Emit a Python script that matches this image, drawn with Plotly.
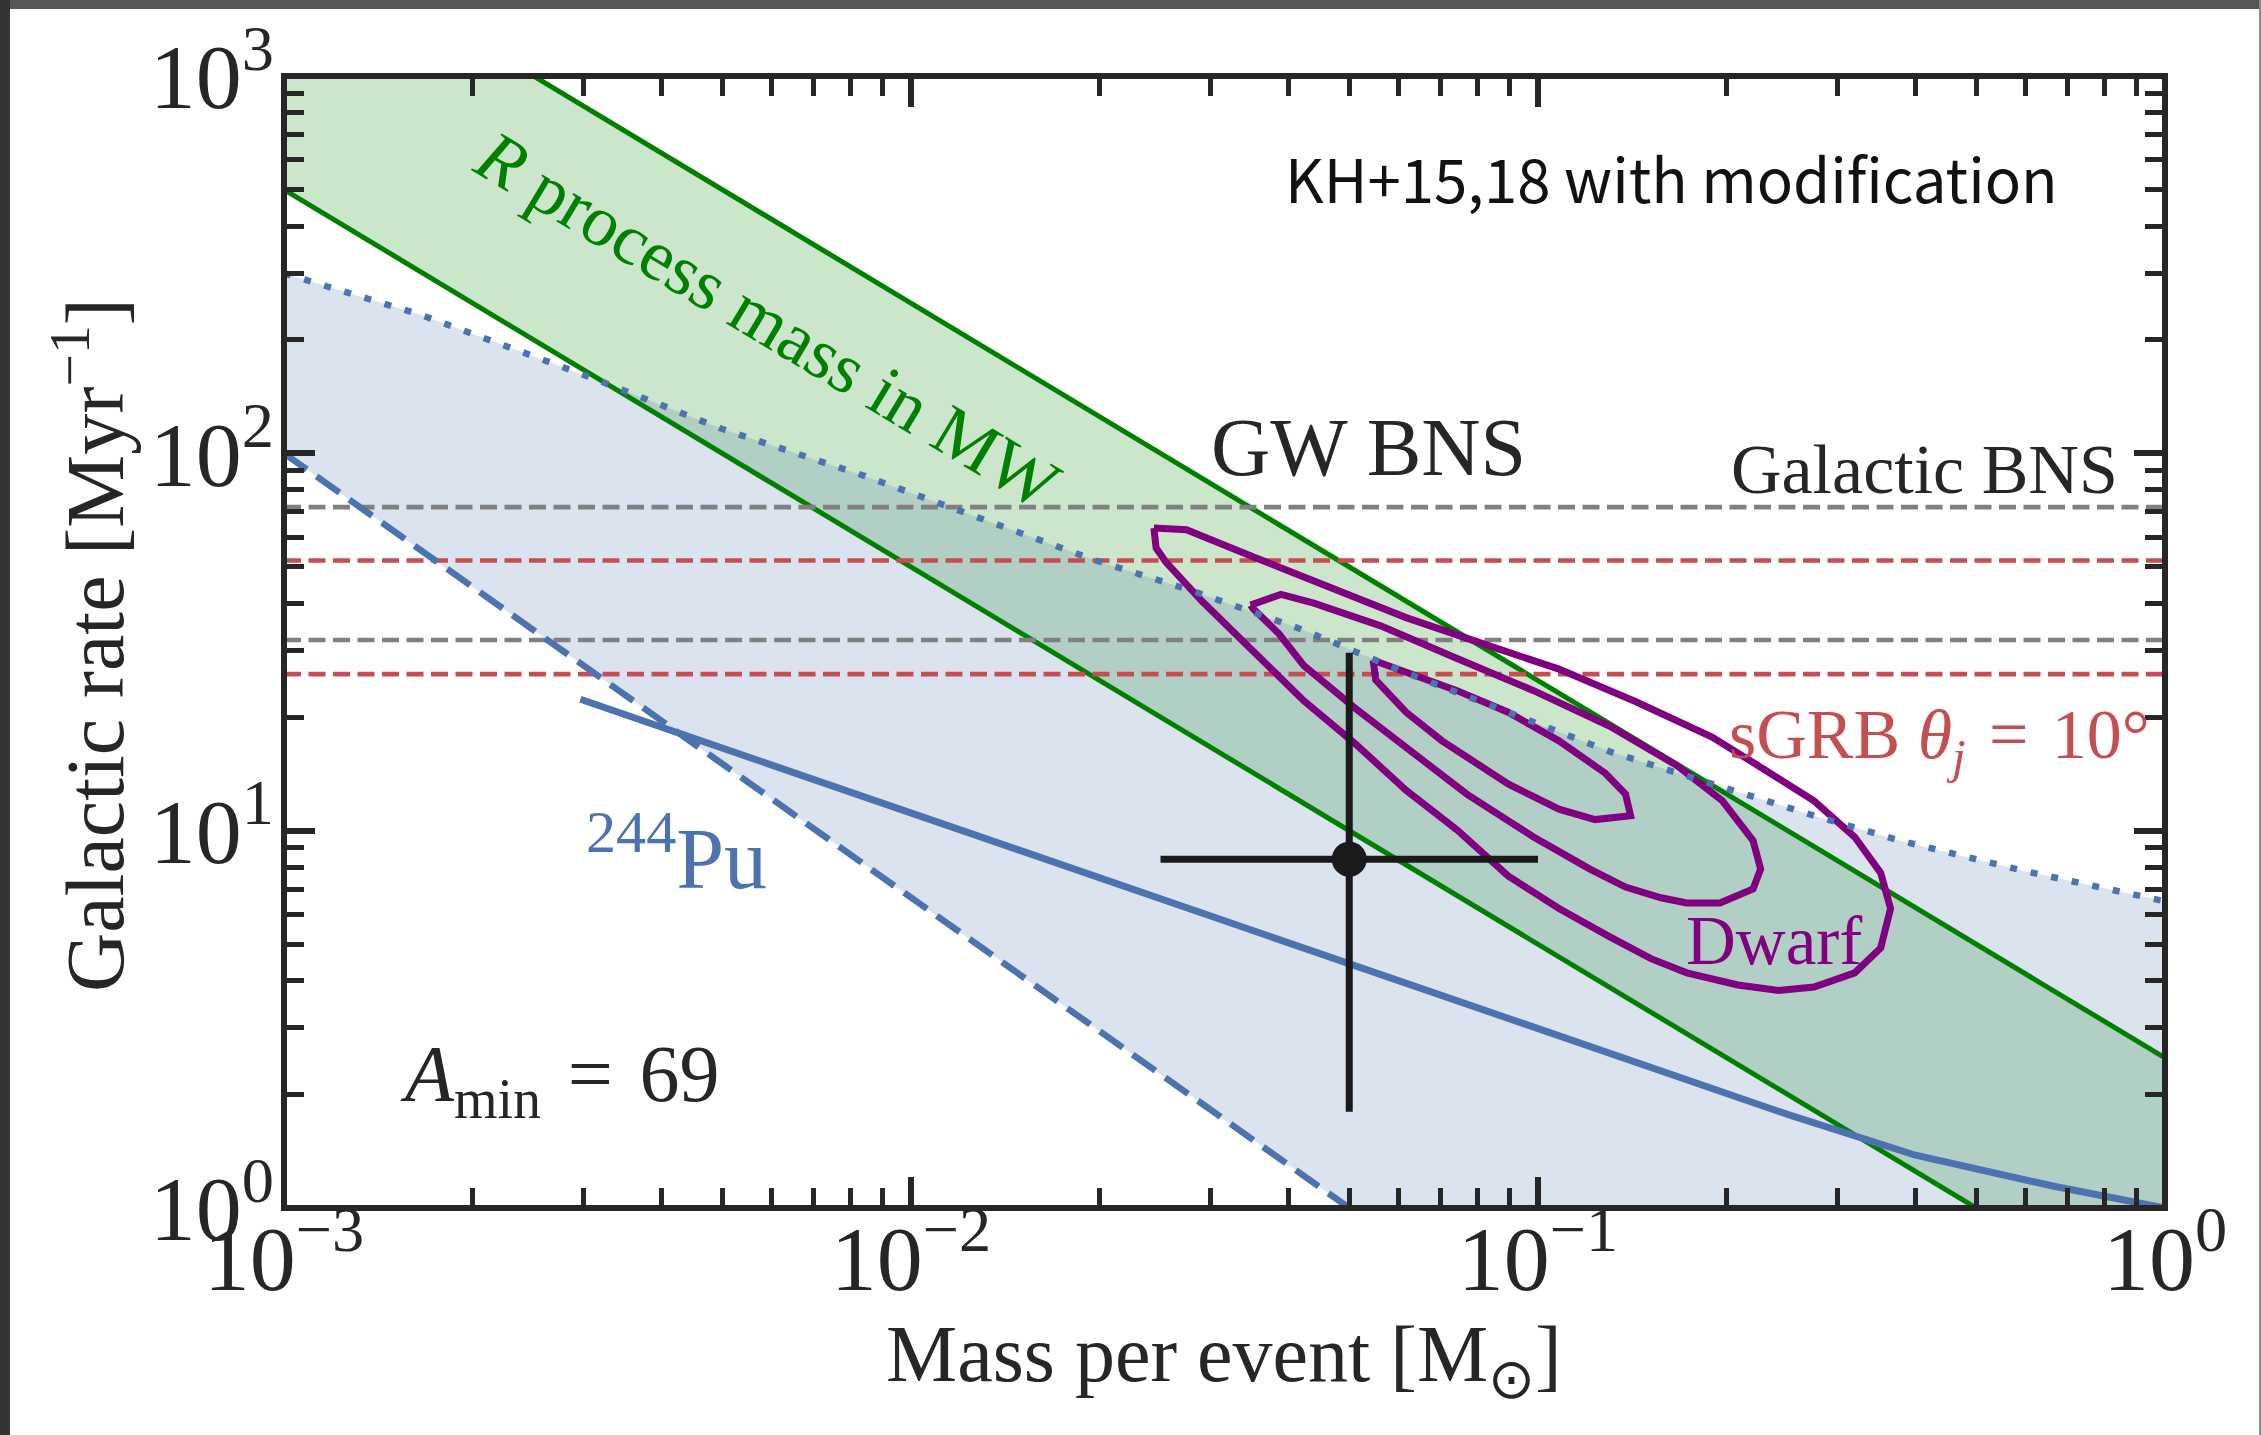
import plotly.graph_objects as go

# ---- data -------------------------------------------------------------
mass_axis = [1e-3, 1.0]          # x-axis span [M_sun]
rate_axis = [1.0, 1e3]           # y-axis span [Myr^-1]

# r-process mass in the Milky Way: rate * mass between these totals
band_mass = [1e-3, 1.0]
band_rate_low = [500.0, 0.5]
band_rate_high = [2500.0, 2.5]

# horizontal rate bounds
galactic_bns_rates = [72.0, 32.0]
sgrb_rates = [52.0, 26.0]

# 244Pu constraints
pu_upper_mass = [1e-3, 1.65e-3, 2.52e-3, 3.11e-3, 5.0e-3, 8.45e-3, 0.0197, 0.028,
                 0.0423, 0.0616, 0.0896, 0.1302, 0.1895, 0.2755, 0.378, 0.6, 1.0]
pu_upper_rate = [300, 233, 180, 158, 116, 87, 52, 43.3,
                 34.0, 26.2, 20.6, 16.2, 13.3, 10.96, 9.41, 7.8, 6.5]

pu_lower_mass = [1e-3, 0.05]
pu_lower_rate = [100.0, 1.0]

pu_solid_mass = [2.97e-3, 0.05, 0.25, 0.4, 0.668, 1.0]
pu_solid_rate = [22.3, 4.44, 1.77, 1.38, 1.14, 1.0]

# dwarf-galaxy contours
dwarf_outer_mass = [0.0244, 0.0275, 0.0351, 0.0465, 0.0616, 0.0816, 0.108, 0.143, 0.1895,
                    0.2285, 0.2755, 0.320, 0.352, 0.365, 0.352, 0.320, 0.2755, 0.242,
                    0.2084, 0.1727, 0.1514, 0.1302, 0.108, 0.0896, 0.0743, 0.0616,
                    0.0511, 0.0423, 0.0351, 0.0291, 0.0255, 0.0246, 0.0244]
dwarf_outer_rate = [63.4, 62.7, 53.2, 44.3, 36.7, 31.3, 26.8, 22.0, 17.7,
                    14.6, 12.0, 9.62, 7.73, 6.22, 4.89, 4.20, 3.85, 3.77,
                    3.90, 4.20, 4.58, 5.23, 6.22, 7.59, 10.04, 12.8,
                    17.0, 22.1, 29.9, 40.6, 51.5, 56.1, 63.4]

dwarf_mid_mass = [0.0348, 0.0389, 0.0439, 0.0561, 0.0743, 0.0984, 0.1302, 0.1663, 0.1968,
                  0.2203, 0.2265, 0.2203, 0.1951, 0.1727, 0.1571, 0.1379, 0.121, 0.0984,
                  0.077, 0.0616, 0.0511, 0.0423, 0.0386, 0.0351, 0.0348]
dwarf_mid_rate = [39.6, 42.3, 40.1, 34.9, 28.6, 23.5, 18.9, 14.9, 12.0,
                  9.41, 7.91, 7.01, 6.43, 6.43, 6.64, 7.09, 7.91, 9.62,
                  12.5, 16.6, 21.1, 27.4, 33.3, 38.8, 39.6]

dwarf_inner_mass = [0.0546, 0.0551, 0.0616, 0.0703, 0.0896, 0.108, 0.1233, 0.1405,
                    0.1379, 0.128, 0.108, 0.0896, 0.0743, 0.0616, 0.0546]
dwarf_inner_rate = [28.3, 25.1, 20.6, 17.3, 13.3, 11.4, 10.7, 10.96,
                    12.5, 14.2, 17.3, 20.6, 23.5, 26.2, 28.3]

# GW170817-based estimate
gw_mass, gw_mass_lo, gw_mass_hi = 0.05, 0.025, 0.1
gw_rate, gw_rate_lo, gw_rate_hi = 8.4, 1.8, 29.6

# axis ticks
x_tick_vals = [1e-3, 1e-2, 1e-1, 1.0]
x_tick_text = ["10<sup>−3</sup>", "10<sup>−2</sup>", "10<sup>−1</sup>", "10<sup>0</sup>"]
y_tick_vals = [1.0, 10.0, 100.0, 1000.0]
y_tick_text = ["10<sup>0</sup>", "10<sup>1</sup>", "10<sup>2</sup>", "10<sup>3</sup>"]
x_minor = [k * 10.0 ** e for e in (-3, -2, -1) for k in range(2, 10)]
y_minor = [k * 10.0 ** e for e in (0, 1, 2) for k in range(2, 10)]

# ---- style ------------------------------------------------------------
INK = "#262626"
GREEN = "#008000"
BLUE = "#4c72b0"
RED = "#c44e52"
GRAY = "#808080"
PURPLE = "#800080"
SERIF = "Liberation Serif"
SP = "\u2004"   # slightly wider space around relation signs

fig = go.Figure()

# filled regions
fig.add_trace(go.Scatter(x=band_mass, y=band_rate_low, mode="lines",
                         line=dict(width=0), hoverinfo="skip"))
fig.add_trace(go.Scatter(x=band_mass, y=band_rate_high, mode="lines",
                         line=dict(width=0), fill="tonexty",
                         fillcolor="rgba(0,128,0,0.2)", hoverinfo="skip"))

pu_poly_x = pu_upper_mass + [mass_axis[1], pu_lower_mass[1], pu_lower_mass[0], pu_upper_mass[0]]
pu_poly_y = pu_upper_rate + [rate_axis[0], pu_lower_rate[1], pu_lower_rate[0], pu_upper_rate[0]]
fig.add_trace(go.Scatter(x=pu_poly_x, y=pu_poly_y, mode="lines", fill="toself",
                         fillcolor="rgba(76,114,176,0.2)", line=dict(width=0),
                         hoverinfo="skip"))

# r-process band edges
for rates in (band_rate_low, band_rate_high):
    fig.add_trace(go.Scatter(x=band_mass, y=rates, mode="lines",
                             line=dict(color=GREEN, width=5)))

# horizontal rate ranges
for r in galactic_bns_rates:
    fig.add_trace(go.Scatter(x=mass_axis, y=[r, r], mode="lines",
                             line=dict(color=GRAY, width=4.6, dash="17px,7.5px")))
for r in sgrb_rates:
    fig.add_trace(go.Scatter(x=mass_axis, y=[r, r], mode="lines",
                             line=dict(color=RED, width=4.6, dash="17px,7.5px")))

# dwarf contours
for mx, ry in ((dwarf_outer_mass, dwarf_outer_rate),
               (dwarf_mid_mass, dwarf_mid_rate),
               (dwarf_inner_mass, dwarf_inner_rate)):
    fig.add_trace(go.Scatter(x=mx, y=ry, mode="lines",
                             line=dict(color=PURPLE, width=7)))

# 244Pu lines
fig.add_trace(go.Scatter(x=pu_upper_mass, y=pu_upper_rate, mode="lines",
                         line=dict(color=BLUE, width=6.5, dash="7px,14px")))
fig.add_trace(go.Scatter(x=pu_lower_mass, y=pu_lower_rate, mode="lines",
                         line=dict(color=BLUE, width=6.5, dash="28px,12px")))
fig.add_trace(go.Scatter(x=pu_solid_mass, y=pu_solid_rate, mode="lines",
                         line=dict(color=BLUE, width=7)))

# GW point with error bars
fig.add_trace(go.Scatter(
    x=[gw_mass], y=[gw_rate], mode="markers",
    marker=dict(size=35, color="#1a1a1a"),
    error_x=dict(type="data", symmetric=False, array=[gw_mass_hi - gw_mass],
                 arrayminus=[gw_mass - gw_mass_lo], thickness=7, width=0,
                 color="#1a1a1a"),
    error_y=dict(type="data", symmetric=False, array=[gw_rate_hi - gw_rate],
                 arrayminus=[gw_rate - gw_rate_lo], thickness=7, width=0,
                 color="#1a1a1a"),
))

# ---- layout -----------------------------------------------------------
W, H = 2261, 1435
ML, MR, MT, MB = 284, 96, 76, 227
PW, PH = W - ML - MR, H - MT - MB


def px(x):
    return (x - ML) / PW


def py(y):
    return (H - MB - y) / PH


axis_common = dict(
    type="log", showgrid=False, zeroline=False, showline=False,
    ticks="inside", ticklen=31, tickwidth=6, tickcolor=INK,
    mirror="allticks",
    tickfont=dict(family=SERIF, size=92, color=INK),
)

fig.update_layout(
    width=W, height=H,
    margin=dict(l=ML, r=MR, t=MT, b=MB, autoexpand=False),
    paper_bgcolor="white", plot_bgcolor="white",
    showlegend=False,
    xaxis=dict(range=[-3, 0], tickvals=x_tick_vals, ticktext=x_tick_text,
               minor=dict(tickvals=x_minor, ticks="inside", ticklen=20,
                          tickwidth=4.5, tickcolor=INK, showgrid=False),
               ticklabelstandoff=-11, **axis_common),
    yaxis=dict(range=[0, 3], tickvals=y_tick_vals, ticktext=y_tick_text,
               minor=dict(tickvals=y_minor, ticks="inside", ticklen=20,
                          tickwidth=4.5, tickcolor=INK, showgrid=False),
               ticklabelstandoff=9, **axis_common),
)

shapes = [
    # plot frame
    dict(type="rect", xref="paper", yref="paper", x0=0, x1=1, y0=0, y1=1,
         line=dict(color=INK, width=6), layer="above"),
    # window edges
    dict(type="rect", xref="paper", yref="paper", x0=px(0), x1=px(W), y0=py(0), y1=py(9),
         line=dict(width=0), fillcolor="#575757", layer="above"),
    dict(type="rect", xref="paper", yref="paper", x0=px(0), x1=px(10), y0=py(0), y1=py(H),
         line=dict(width=0), fillcolor="#353535", layer="above"),
    dict(type="rect", xref="paper", yref="paper", x0=px(W - 2), x1=px(W), y0=py(0), y1=py(H),
         line=dict(width=0), fillcolor="#8a8a8a", layer="above"),
]
fig.update_layout(shapes=shapes)


def label(text, x, y, size, color=INK, xanchor="center", yanchor="middle",
          angle=0, family=SERIF):
    fig.add_annotation(text=text, xref="paper", yref="paper", x=px(x), y=py(y),
                       xanchor=xanchor, yanchor=yanchor, textangle=angle,
                       showarrow=False, font=dict(family=family, size=size, color=color))


label("KH+15,18 with modification", 1283, 177, 60, color="#111111",
      xanchor="left", family="Noto Sans CJK JP")
label("<i>R</i> process mass in MW", 767, 320, 72, color=GREEN, angle=31)
label("GW BNS", 1368, 447, 82)
label("Galactic BNS", 2120, 469, 70, xanchor="right")
label(f"sGRB <i>θ</i><sub><i>j</i></sub>{SP}={SP}10°", 1727, 740, 70, color=RED, xanchor="left")
label("Dwarf", 1684, 941, 69, color=PURPLE, xanchor="left")
label("<sup>244</sup>Pu", 584, 852, 86, color=BLUE, xanchor="left")
label(f"<i>A</i><sub>min</sub>{SP}={SP}69", 398, 1080, 80, xanchor="left")
label("Mass per event [M<sub>⊙</sub>]", 1224, 1360, 80)
label("Galactic rate [Myr<sup>−1</sup>]", 89, 645, 82, angle=-90)

fig.write_html("out.html")
